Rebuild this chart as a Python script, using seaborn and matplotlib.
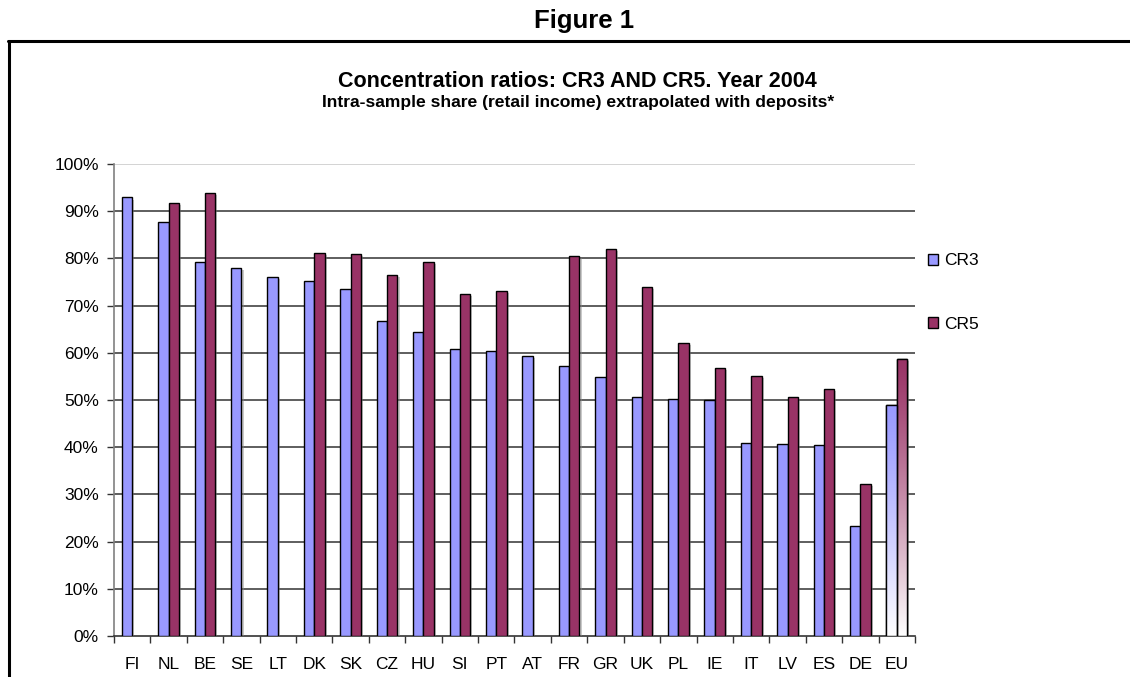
import numpy as np
import pandas as pd
import seaborn as sns
import matplotlib
matplotlib.use("Agg")
import matplotlib.pyplot as plt
from matplotlib.lines import Line2D
from matplotlib.patches import Patch, Rectangle
from matplotlib.ticker import FixedLocator, PercentFormatter
import matplotlib.patheffects as pe
from matplotlib.colors import to_rgb

countries = ["FI", "NL", "BE", "SE", "LT", "DK", "SK", "CZ", "HU", "SI", "PT",
             "AT", "FR", "GR", "UK", "PL", "IE", "IT", "LV", "ES", "DE", "EU"]
cr3 = [92.9, 87.6, 79.2, 78.0, 76.1, 75.2, 73.5, 66.7, 64.3, 60.7, 60.3,
       59.4, 57.1, 54.8, 50.7, 50.2, 50.0, 40.9, 40.6, 40.4, 23.2, 49.0]
cr5 = [np.nan, 91.7, 93.9, np.nan, np.nan, 81.1, 80.9, 76.5, 79.2, 72.5, 73.0,
       np.nan, 80.6, 81.9, 73.9, 62.0, 56.7, 55.0, 50.7, 52.4, 32.2, 58.7]
series = ["CR3", "CR5"]
colors = {"CR3": "#9999FF", "CR5": "#993366"}
gradient_category = "EU"

df = pd.DataFrame({
    "country": countries * 2,
    "series": ["CR3"] * len(countries) + ["CR5"] * len(countries),
    "value": cr3 + cr5,
}).dropna()

sns.set_theme(style="white")
plt.rcParams["font.family"] = ["Liberation Sans", "DejaVu Sans"]
plt.rcParams["text.color"] = "black"
plt.rcParams["xtick.color"] = "black"
plt.rcParams["ytick.color"] = "black"

fig = plt.figure(figsize=(11.3, 6.77), dpi=100)
ax = fig.add_axes([0.1009, 0.0606, 0.7088, 0.6972])

sns.barplot(data=df, x="country", y="value", hue="series", order=countries,
            hue_order=series, palette=colors, width=0.57, gap=0,
            edgecolor="black", linewidth=1.0, saturation=1, legend=False,
            errorbar=None, ax=ax, zorder=3)

shadow = [pe.SimplePatchShadow(offset=(1.5, -1.5), shadow_rgbFace="#888888", alpha=0.45),
          pe.Normal()]
eu_idx = countries.index(gradient_category)
for p in list(ax.patches):
    p.set_path_effects(shadow)
    cx = p.get_x() + p.get_width() / 2
    if abs(cx - eu_idx) < 0.5:
        # vertical fade from the series colour at the top to white at the base
        base = np.array(to_rgb(p.get_facecolor()))
        t = np.linspace(0, 1, 256)[:, None] ** 1.2
        img = (1 - t) * base + t * np.ones(3)
        img = img[:, None, :]
        x0, y0, w, h = p.get_x(), p.get_y(), p.get_width(), p.get_height()
        p.set_facecolor("white")
        im = ax.imshow(img, extent=(x0, x0 + w, y0, y0 + h), aspect="auto",
                       origin="upper", zorder=3.5, interpolation="bilinear")
        im.set_clip_path(p)
        ax.add_patch(Rectangle((x0, y0), w, h, facecolor="none", edgecolor="black",
                               linewidth=1.0, zorder=4))

ax.set_xlim(-0.5, len(countries) - 0.5)
ax.set_ylim(0, 100)
ax.set_aspect("auto")
ax.yaxis.set_major_locator(FixedLocator(np.arange(0, 101, 10)))
ax.yaxis.set_major_formatter(PercentFormatter(decimals=0))
for v in range(10, 100, 10):
    ax.axhline(v, color="#333333", linewidth=1.1, zorder=1)
ax.axhline(100, color="#c8c8c8", linewidth=1.1, zorder=1)

ax.set_xlabel("")
ax.set_ylabel("")
ax.xaxis.set_minor_locator(FixedLocator(np.arange(-0.5, len(countries), 1)))
ax.tick_params(axis="x", which="major", length=0, pad=15, labelsize=12.5, labelcolor="black")
ax.tick_params(axis="x", which="minor", length=5, width=1, color="#333333", direction="out", bottom=True)
ax.tick_params(axis="y", which="major", length=5, width=1, color="#333333", direction="out",
               left=True, pad=6, labelsize=12.5, labelcolor="black")

for side in ["top", "right"]:
    ax.spines[side].set_visible(False)
ax.spines["left"].set_color("#808080")
ax.spines["left"].set_linewidth(1.2)
ax.spines["bottom"].set_color("#333333")
ax.spines["bottom"].set_linewidth(1.2)

handles = [Patch(facecolor=colors[s], edgecolor="black", linewidth=1.0, label=s) for s in series]
fig.legend(handles=handles, loc="upper left", bbox_to_anchor=(0.815, 0.636),
           frameon=False, fontsize=12.5, handlelength=0.6, handleheight=0.6,
           handletextpad=0.35, labelspacing=2.8, borderaxespad=0, labelcolor="black")

fig.text(0.517, 0.969, "Figure 1", ha="center", va="center",
         fontsize=18.5, fontweight="bold")
fig.text(0.511, 0.879, "Concentration ratios: CR3 AND CR5. Year 2004",
         ha="center", va="center", fontsize=15.5, fontweight="bold")
fig.text(0.512, 0.849, "Intra-sample share (retail income) extrapolated with deposits*",
         ha="center", va="center", fontsize=12.6, fontweight="bold")

fig.add_artist(Line2D([0.0075, 1.0], [0.9394, 0.9394], transform=fig.transFigure,
                      color="black", linewidth=2.2))
fig.add_artist(Line2D([0.0084, 0.0084], [0.0, 0.9394], transform=fig.transFigure,
                      color="black", linewidth=2.2))

fig.savefig("out.png", dpi=100, facecolor="white")
